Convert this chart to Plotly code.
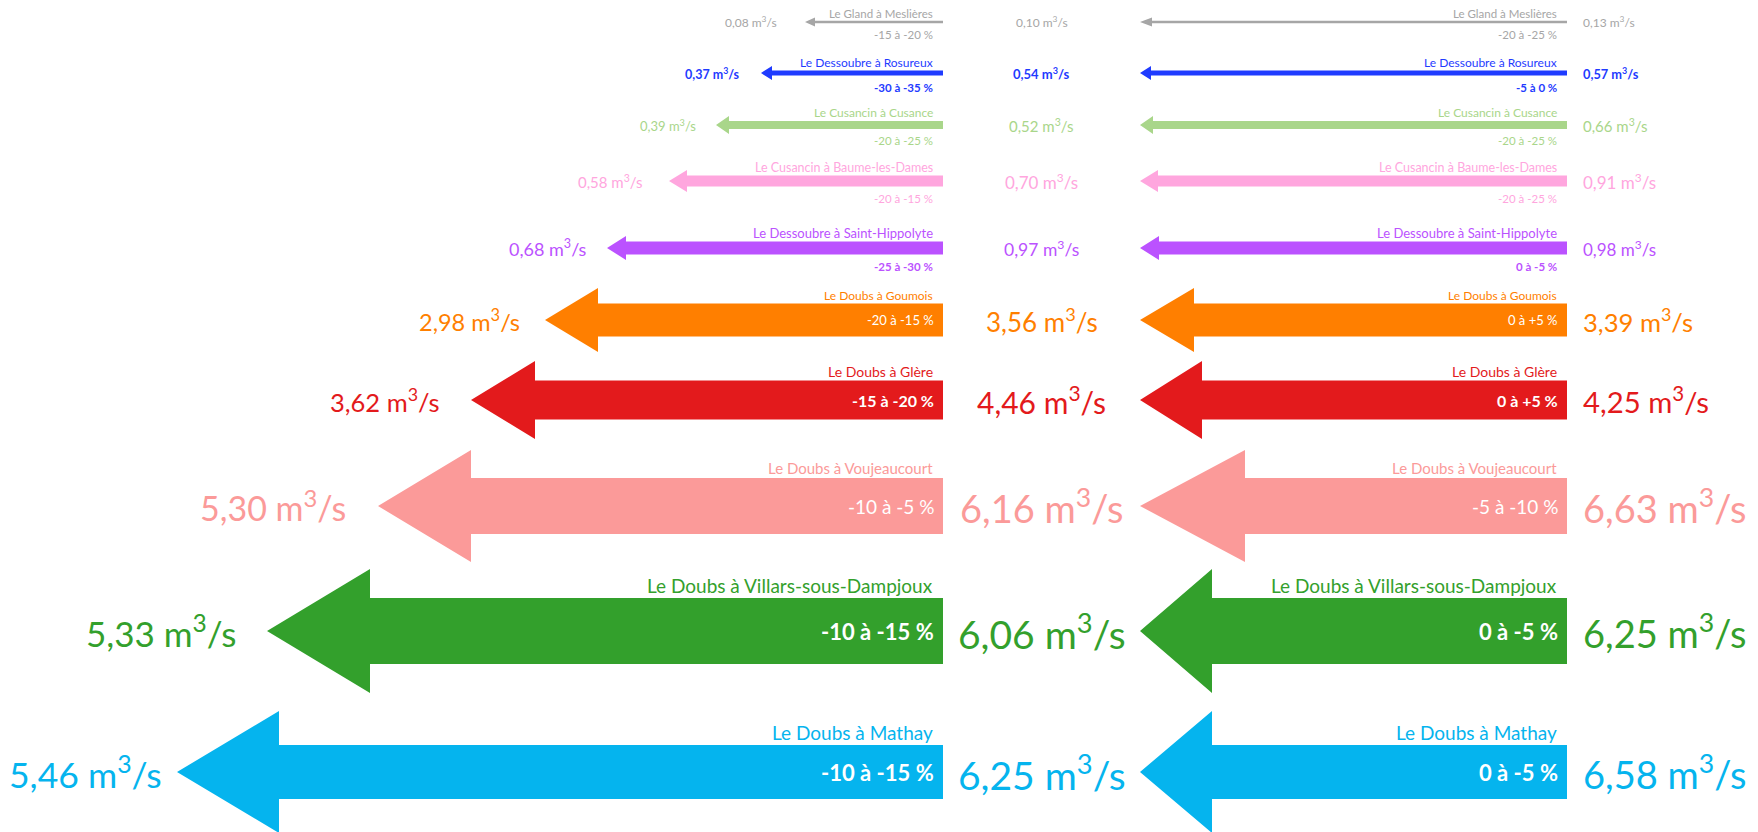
import plotly.graph_objects as go

# --- data -----------------------------------------------------------------
STATIONS = [
    "Le Gland à Meslières",
    "Le Dessoubre à Rosureux",
    "Le Cusancin à Cusance",
    "Le Cusancin à Baume-les-Dames",
    "Le Dessoubre à Saint-Hippolyte",
    "Le Doubs à Goumois",
    "Le Doubs à Glère",
    "Le Doubs à Voujeaucourt",
    "Le Doubs à Villars-sous-Dampjoux",
    "Le Doubs à Mathay",
]
FLOW_LEFT = [0.08, 0.37, 0.39, 0.58, 0.68, 2.98, 3.62, 5.30, 5.33, 5.46]
FLOW_MID = [0.10, 0.54, 0.52, 0.70, 0.97, 3.56, 4.46, 6.16, 6.06, 6.25]
FLOW_RIGHT = [0.13, 0.57, 0.66, 0.91, 0.98, 3.39, 4.25, 6.63, 6.25, 6.58]
PCT_LEFT = ["-15 à -20 %", "-30 à -35 %", "-20 à -25 %", "-20 à -15 %", "-25 à -30 %",
            "-20 à -15 %", "-15 à -20 %", "-10 à -5 %", "-10 à -15 %", "-10 à -15 %"]
PCT_RIGHT = ["-20 à -25 %", "-5 à 0 %", "-20 à -25 %", "-20 à -25 %", "0 à -5 %",
             "0 à +5 %", "0 à +5 %", "-5 à -10 %", "0 à -5 %", "0 à -5 %"]

# --- styles / layout --------------------------------------------------------
COLORS = ["#A6A6A6", "#1F3BFF", "#A9D68A", "#FFA6DE", "#BB52FF",
          "#FF7F00", "#E31A1C", "#FB9A99", "#33A02C", "#05B4EE"]
ROW_Y = [22, 73, 125, 181, 248, 320, 400, 506, 631, 772]
SHAFT = [1.3, 2.5, 4, 5.5, 6.5, 16.5, 19.5, 28, 33, 27]
HEAD = [4.5, 7, 9, 11, 12, 32, 39, 56, 62, 61]
LEFT_LEN = [138, 182, 227, 274, 336, 398, 472, 565, 676, 766]
HEAD_LEN_L = [10, 11, 13, 18, 19, 53, 64, 93, 103, 102]
HEAD_LEN_R = [12, 11, 13, 18, 19, 54, 62, 105, 72, 72]
VAL_GAP = [26, 19, 18, 24, 18, 23, 29, 30, 29, 13]
LABEL_SIZE = [11.5, 12, 12, 12.5, 13, 12, 14, 15, 19, 19]
PCT_SIZE = [11.5, 11.5, 11.5, 11.5, 11.5, 13, 16, 19, 22, 22]
PCT_BOLD = [False, True, False, False, True, False, True, False, True, True]
VAL_BOLD = [False, True, False, False, False, False, False, False, False, False]
VAL_L_SIZE = [12, 12.5, 13, 15, 18, 23.5, 25.5, 34, 35, 35.5]
VAL_M_SIZE = [12, 13, 15, 17, 17.5, 26, 30, 38, 39, 39]
VAL_R_SIZE = [12, 12.8, 15, 17, 17, 25.6, 29.3, 38, 38, 38]

W, H = 1758, 832
LEFT_TAIL, RIGHT_TIP, RIGHT_TAIL = 943, 1140, 1567
FONT = "Lato, 'Open Sans', sans-serif"


def arrow(tail, tip, y, shaft, head, head_len):
    sx = tip + head_len
    xs = [tail, sx, sx, tip, sx, sx, tail, tail]
    ys = [y - shaft, y - shaft, y - head, y, y + head, y + shaft, y + shaft, y - shaft]
    return xs, ys


def fmt(v, bold=False):
    s = f"{v:.2f}".replace(".", ",") + " m<sup>3</sup>/s"
    return f"<b>{s}</b>" if bold else s


fig = go.Figure()
ann = []

for i, name in enumerate(STATIONS):
    c = COLORS[i]
    y = ROW_Y[i]
    left_tip = LEFT_TAIL - LEFT_LEN[i]
    for tail, tip, hl in [(LEFT_TAIL, left_tip, HEAD_LEN_L[i]), (RIGHT_TAIL, RIGHT_TIP, HEAD_LEN_R[i])]:
        xs, ys = arrow(tail, tip, y, SHAFT[i], HEAD[i], hl)
        fig.add_trace(go.Scatter(x=xs, y=ys, mode="lines", fill="toself", fillcolor=c,
                                 line=dict(width=0, color=c), hoverinfo="skip", showlegend=False))

    big = i >= 5
    for tail, pct in [(LEFT_TAIL, PCT_LEFT[i]), (RIGHT_TAIL, PCT_RIGHT[i])]:
        # station name above the shaft
        ann.append(dict(x=tail - 8, y=y - SHAFT[i] + 1, text=name, xanchor="right", yanchor="bottom",
                        font=dict(size=LABEL_SIZE[i], color=c, family=FONT)))
        txt = f"<b>{pct}</b>" if PCT_BOLD[i] else pct
        if big:
            ann.append(dict(x=tail - 7, y=y, text=txt, xanchor="right", yanchor="middle",
                            font=dict(size=PCT_SIZE[i], color="white", family=FONT)))
        else:
            ann.append(dict(x=tail - 8, y=y + SHAFT[i] + 3, text=txt, xanchor="right", yanchor="top",
                            font=dict(size=PCT_SIZE[i], color=c, family=FONT)))

    # flow values
    vb = VAL_BOLD[i]
    ann.append(dict(x=left_tip - VAL_GAP[i], y=y, text=fmt(FLOW_LEFT[i], vb), xanchor="right",
                    yanchor="middle", font=dict(size=VAL_L_SIZE[i], color=c, family=FONT)))
    ann.append(dict(x=(LEFT_TAIL + RIGHT_TIP) / 2, y=y, text=fmt(FLOW_MID[i], vb), xanchor="center",
                    yanchor="middle", font=dict(size=VAL_M_SIZE[i], color=c, family=FONT)))
    ann.append(dict(x=RIGHT_TAIL + 14, y=y, text=fmt(FLOW_RIGHT[i], vb), xanchor="left", yanchor="middle",
                    font=dict(size=VAL_R_SIZE[i], color=c, family=FONT)))

for a in ann:
    a.update(xref="x", yref="y", showarrow=False)

fig.update_layout(
    width=W, height=H,
    margin=dict(l=0, r=0, t=0, b=0),
    font=dict(family=FONT, size=12, color="#444"),
    paper_bgcolor="white", plot_bgcolor="white",
    xaxis=dict(range=[0, W], visible=False, fixedrange=True),
    yaxis=dict(range=[H, 0], visible=False, fixedrange=True),
    annotations=ann,
    showlegend=False,
)

fig.write_html("out.html", config={"displayModeBar": False},
               post_script="document.body.style.margin='0';document.body.style.overflow='hidden';")
